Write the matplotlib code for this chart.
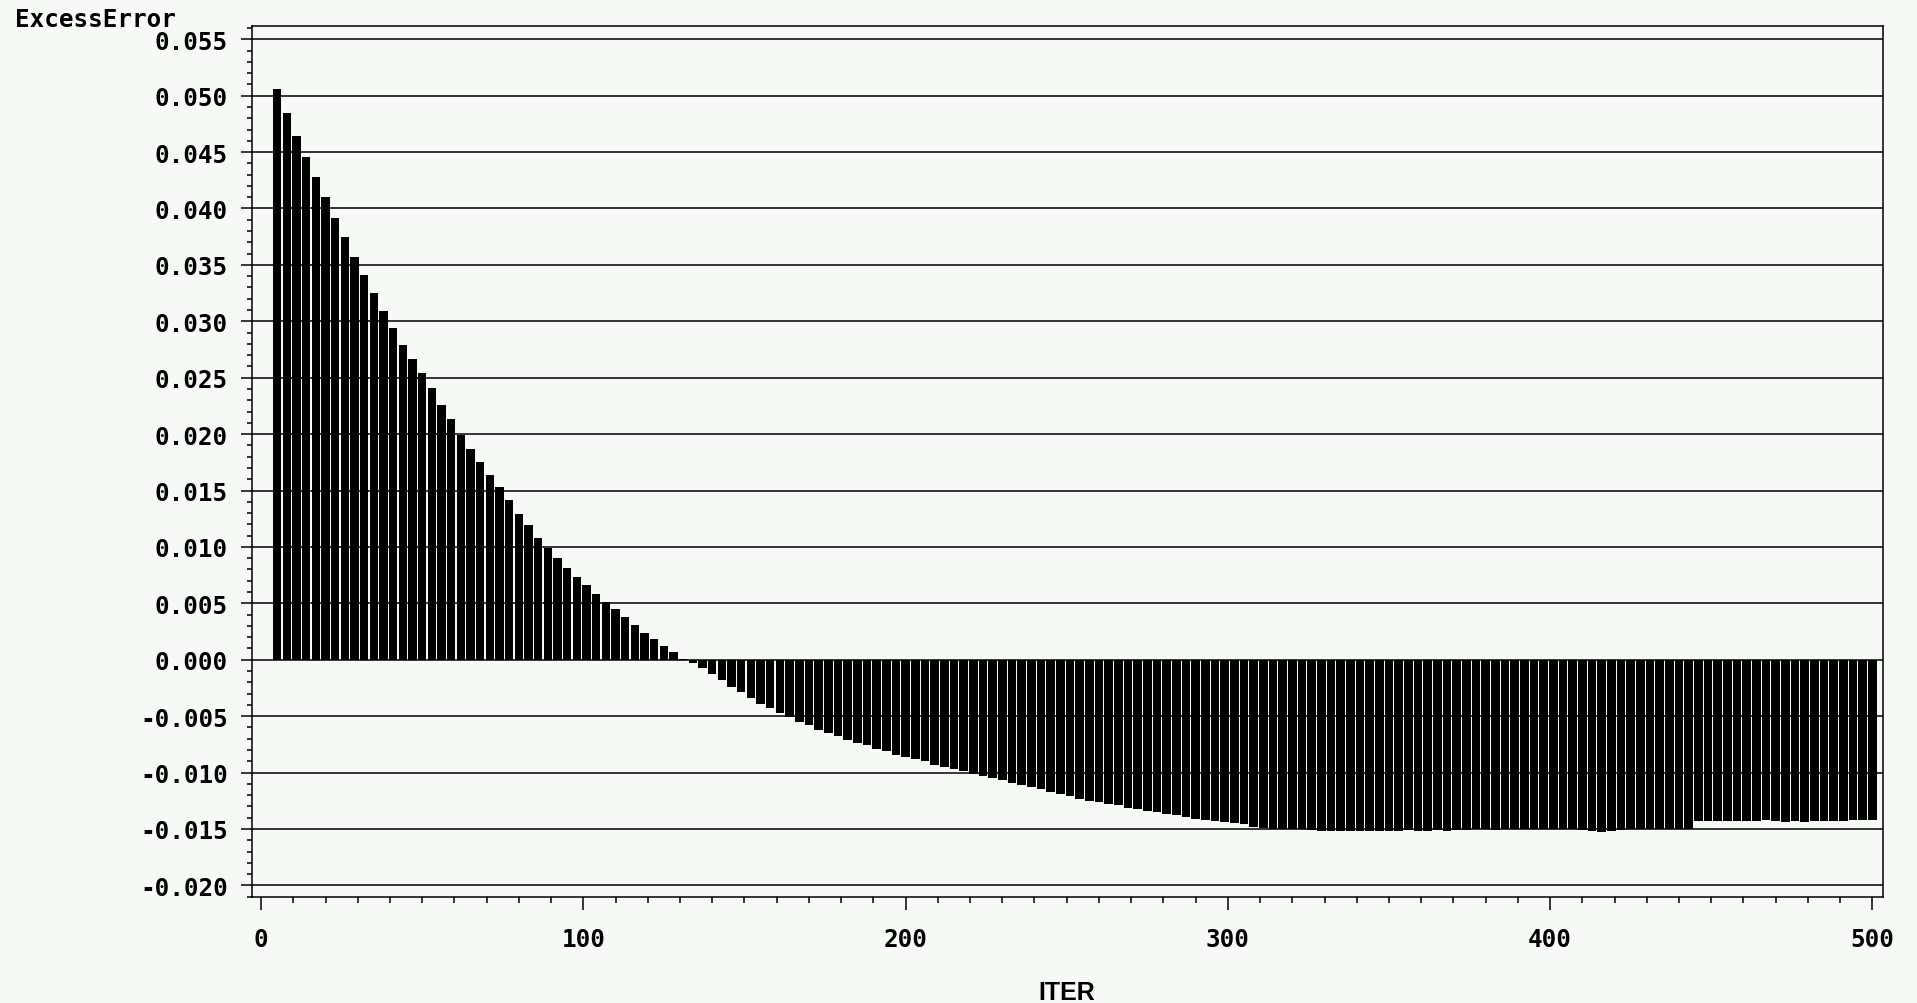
import numpy as np
import matplotlib
matplotlib.use('Agg')
import matplotlib.pyplot as plt
from matplotlib.ticker import MultipleLocator, FormatStrFormatter

# ITER runs 5, 8, ..., 500 (one needle every 3 iterations)
iters = np.arange(5, 501, 3)
excess_error = [
    0.0506, 0.0485, 0.0464, 0.0446, 0.0428, 0.0410, 0.0392, 0.0375, 0.0357, 0.0341,
    0.0325, 0.0309, 0.0294, 0.0279, 0.0267, 0.0254, 0.0241, 0.0226, 0.0213, 0.0199,
    0.0187, 0.0175, 0.0164, 0.0153, 0.0142, 0.0129, 0.0119, 0.0108, 0.0099, 0.0090,
    0.0081, 0.0073, 0.0066, 0.0058, 0.0051, 0.0045, 0.0038, 0.0031, 0.0024, 0.0018,
    0.0012, 0.0007, 0.0001, -0.0003, -0.0007, -0.0013, -0.0018, -0.0024, -0.0029, -0.0034,
    -0.0039, -0.0043, -0.0047, -0.0051, -0.0055, -0.0058, -0.0062, -0.0065, -0.0068, -0.0071,
    -0.0074, -0.0076, -0.0079, -0.0081, -0.0084, -0.0086, -0.0088, -0.0090, -0.0093, -0.0095,
    -0.0097, -0.0099, -0.0101, -0.0103, -0.0105, -0.0107, -0.0109, -0.0111, -0.0113, -0.0115,
    -0.0117, -0.0119, -0.0121, -0.0123, -0.0125, -0.0126, -0.0128, -0.0129, -0.0131, -0.0132,
    -0.0134, -0.0135, -0.0137, -0.0138, -0.0139, -0.0141, -0.0142, -0.0143, -0.0144, -0.0145,
    -0.0146, -0.0148, -0.0149, -0.0150, -0.0150, -0.0150, -0.0150, -0.0151, -0.0152, -0.0152,
    -0.0152, -0.0152, -0.0152, -0.0152, -0.0152, -0.0152, -0.0152, -0.0151, -0.0152, -0.0152,
    -0.0151, -0.0152, -0.0151, -0.0151, -0.0150, -0.0150, -0.0151, -0.0150, -0.0150, -0.0150,
    -0.0150, -0.0150, -0.0150, -0.0150, -0.0150, -0.0151, -0.0152, -0.0153, -0.0152, -0.0151,
    -0.0150, -0.0150, -0.0150, -0.0150, -0.0150, -0.0150, -0.0150, -0.0143, -0.0143, -0.0143,
    -0.0143, -0.0143, -0.0143, -0.0143, -0.0142, -0.0143, -0.0144, -0.0143, -0.0144, -0.0143,
    -0.0143, -0.0143, -0.0143, -0.0142, -0.0142, -0.0142,
]
y_ticks = np.arange(-0.020, 0.0551, 0.005)
x_ticks = [0, 100, 200, 300, 400, 500]

bg = '#f6faf4'
plt.rcParams['axes.unicode_minus'] = False
mono = 'DejaVu Sans Mono'

fig = plt.figure(figsize=(19.17, 10.04), dpi=100, facecolor=bg)
ax = fig.add_axes([0.1313, 0.1059, 0.8508, 0.8675], facecolor=bg)

ax.bar(iters, excess_error, width=2.65, color='black', linewidth=0)

ax.set_xlim(-2.9, 503.2)
ax.set_ylim(-0.0210, 0.0562)
ax.set_yticks(y_ticks)
ax.yaxis.set_major_formatter(FormatStrFormatter('%.3f'))
ax.yaxis.set_minor_locator(MultipleLocator(0.001))
ax.set_xticks(x_ticks)
ax.xaxis.set_minor_locator(MultipleLocator(10))
ax.grid(axis='y', color='black', linewidth=1.1)

for s in ax.spines.values():
    s.set_linewidth(1.1)
    s.set_color('black')

ax.tick_params(axis='y', which='major', direction='out', length=8, width=1.1, pad=9)
ax.tick_params(axis='y', which='minor', direction='out', length=3.6, width=1.1)
ax.tick_params(axis='x', which='major', direction='out', length=9, width=1.1, pad=13)
ax.tick_params(axis='x', which='minor', direction='out', length=4.5, width=1.1)
for lab in ax.get_xticklabels() + ax.get_yticklabels():
    lab.set_fontfamily(mono)
    lab.set_fontweight('bold')
    lab.set_fontsize(17.5)

fig.text(15 / 1917, 1 - 27.3 / 1004, 'ExcessError', family=mono, fontsize=17.5,
         fontweight='bold', va='baseline', ha='left')
fig.text(1066.7 / 1917, 1 - 1000 / 1004, 'ITER', family='Liberation Sans',
         fontweight='bold', fontsize=18, va='baseline', ha='center')

plt.savefig('out.png', dpi=100, facecolor=bg)
